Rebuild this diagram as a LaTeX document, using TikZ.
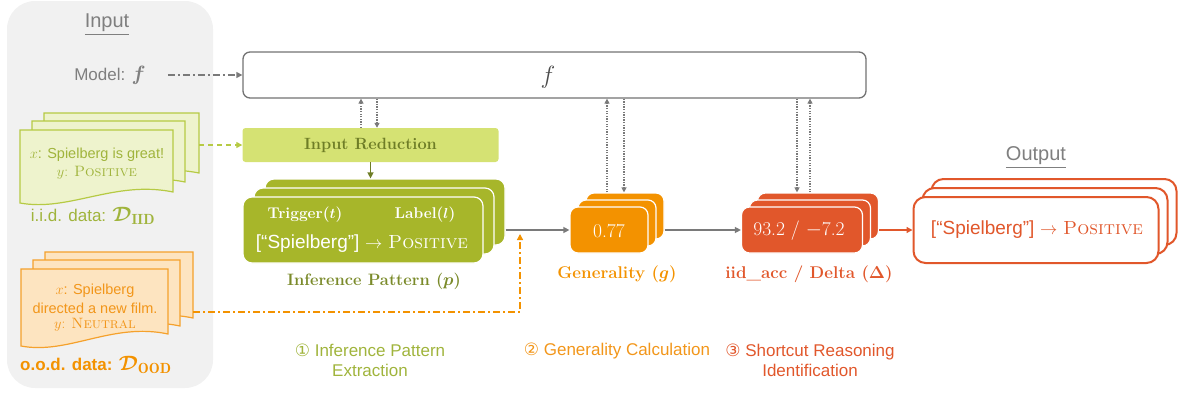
\documentclass[tikz,border=0pt]{standalone}
\usepackage{amsmath}
\usepackage{bm}
\usepackage{fontspec}
\newfontfamily\arial{Liberation Sans}
\newfontfamily\dejavu{DejaVu Sans}
\usetikzlibrary{arrows.meta}
\definecolor{panelgrey}{HTML}{F1F1F1}
\definecolor{txtgrey}{HTML}{7F7F7F}
\definecolor{linegrey}{HTML}{7A7A7A}
\definecolor{fborder}{HTML}{737373}
\definecolor{lgfill}{HTML}{EEF3CD}
\definecolor{lgborder}{HTML}{B6CA44}
\definecolor{lgtext}{HTML}{A0B43C}
\definecolor{irfill}{HTML}{D5E273}
\definecolor{irtext}{HTML}{6E7D26}
\definecolor{ipfill}{HTML}{A7B62A}
\definecolor{iplabel}{HTML}{7A8A2A}
\definecolor{orng}{HTML}{F39200}
\definecolor{ofill}{HTML}{FDE4C0}
\definecolor{oborder}{HTML}{F5A12C}
\definecolor{otext}{HTML}{F2961A}
\definecolor{rd}{HTML}{E1572B}
\newcommand{\fsz}[2]{\fontsize{#1}{#2}\selectfont}
\newcommand{\mydoc}[7]{%
  \filldraw[fill=#1,draw=#2,line width=1.2pt] (#3,#4) -- (#5,#4) -- (#5,#7)
    .. controls ({#3+0.62*(#5-#3)},{#7-12}) and ({#3+0.32*(#5-#3)},{#6+9}) .. (#3,#6) -- cycle;}
\begin{document}
\begin{tikzpicture}[x=1pt,y=-1pt,
  arr/.style={-{Triangle[length=6pt,width=6pt]}, line width=1.3pt},
  smarr/.style={-{Triangle[length=5pt,width=5pt]}},
  dashdot/.style={dash pattern=on 7pt off 3pt on 2pt off 3pt},
  dotl/.style={draw=linegrey, line width=1.2pt, dash pattern=on 1.3pt off 1.3pt},
  stackbox/.style={rounded corners=9pt, draw=white, line width=1.2pt, inner sep=0pt},
  ipbox/.style={stackbox, fill=ipfill, minimum width=240pt, minimum height=66pt},
  genbox/.style={stackbox, rounded corners=8pt, fill=orng, minimum width=78pt, minimum height=46pt},
  accbox/.style={stackbox, rounded corners=8pt, fill=rd, minimum width=121pt, minimum height=46pt},
  outbox/.style={rounded corners=12pt, draw=rd, fill=white, line width=2pt, minimum width=245pt, minimum height=66pt, inner sep=0pt},
  lbl/.style={inner sep=0pt, align=center},
  botlbl/.style={inner sep=0pt, align=center, font=\arial\fsz{17}{20}}
]
\useasboundingbox (0,0) rectangle (1181,394);
% input panel
\fill[panelgrey, rounded corners=28pt] (7,1) rectangle (213,388);
\node[lbl, text=txtgrey] (inlbl) at (107,25) {\arial\fsz{20}{24}\underline{Input}};
\node[lbl, text=txtgrey] (model) at (110,75) {\arial\fsz{17}{20}Model: \fsz{20}{24}$\bm{f}$};
% f box
\node[draw=fborder, line width=1.3pt, rounded corners=7pt, fill=white, minimum width=623pt, minimum height=46pt] (fbox) at (554.5,75) {};
\node[lbl, text=black!70] (ftxt) at (548,77) {\fsz{25}{30}$f$};
\draw[arr, draw=linegrey, dashdot, shorten <=22pt] (model.east) -- (model.east -| fbox.west);
% iid docs
\mydoc{lgfill}{lgborder}{44}{113}{199}{184}{173}
\mydoc{lgfill}{lgborder}{32}{121}{185}{193}{182}
\mydoc{lgfill}{lgborder}{20}{130}{173}{203}{192}
\node[lbl, text=lgtext] (iidx) at (97,155) {\arial\fsz{14.5}{17}$x$: Spielberg is great!};
\node[lbl, text=lgtext] (iidy) at (97,173) {\fsz{15}{17}$y$: \textsc{Positive}};
\node[lbl, text=lgtext] (iidlbl) at (93,216) {\arial\fsz{17}{20}i.i.d. data: \fsz{21}{24}$\bm{\mathcal{D}}_{\mathbf{IID}}$};
% ood docs
\mydoc{ofill}{oborder}{45}{252}{193}{329}{318}
\mydoc{ofill}{oborder}{33}{260}{180}{337}{326}
\mydoc{ofill}{oborder}{21}{269}{168}{346}{334}
\node[lbl, text=otext] (oodx) at (95,291) {\arial\fsz{14.5}{17}$x$: Spielberg};
\node[lbl, text=otext] (oodd) at (95,308) {\arial\fsz{14.5}{17}directed a new film.};
\node[lbl, text=otext] (oody) at (95,325) {\fsz{15}{17}$y$: \textsc{Neutral}};
\node[lbl, text=orng] (oodlbl) at (96,365) {\arial\bfseries\fsz{17}{20}o.o.d. data: \fsz{21}{24}$\bm{\mathcal{D}}_{\mathbf{OOD}}$};
% input reduction
\node[rounded corners=3pt, fill=irfill, minimum width=256pt, minimum height=34pt, inner sep=0pt, text=irtext] (ir) at (370.5,145) {\bfseries\fsz{16.3}{19}Input Reduction};
\coordinate (iidR) at (199,145);
\draw[arr, draw=lgborder, dash pattern=on 5pt off 4pt] (iidR) -- (iidR -| ir.west);
% inference pattern stack
\node[ipbox] (ip3) at (385,212) {};
\node[ipbox] (ip2) at (374,221) {};
\node[ipbox] (ip) at (363,230) {};
\node[lbl, text=white] (iptrig) at (305,215) {\bfseries\fsz{15.5}{18}Trigger($\bm{t}$)};
\node[lbl, text=white] (iplab) at (425,215) {\bfseries\fsz{15.5}{18}Label($\bm{l}$)};
\node[lbl, text=white] (iptxt) at (362,244) {\fsz{19}{22}{\arial[“Spielberg”]} $\rightarrow$ \textsc{Positive}};
\node[lbl, text=iplabel] (iplbl) at (374,281) {\bfseries\fsz{16.5}{20}Inference Pattern ($\bm{p}$)};
\draw[arr, draw=irtext] (ir.south) -- (ir.south |- ip3.north);
% generality stack
\node[genbox] (gen3) at (625,216) {};
\node[genbox] (gen2) at (617,223) {};
\node[genbox] (gen) at (609,230) {};
\node[lbl, text=white] (gentxt) at (609,231) {\fsz{19.5}{22}0.77};
\node[lbl, text=orng] (genlbl) at (617,274) {\bfseries\fsz{17}{20}Generality ($\bm{g}$)};
% acc stack
\node[accbox] (acc3) at (818,216) {};
\node[accbox] (acc2) at (810,223) {};
\node[accbox] (acc) at (802,230) {};
\node[lbl, text=white] (acctxt) at (799,231) {\fsz{19.5}{22}93.2 / $-$7.2};
\node[lbl, text=rd] (acclbl) at (809,274) {\bfseries\fsz{17}{20}iid\_acc / Delta ($\bm{\Delta}$)};
% output
\node[lbl, text=txtgrey] (outlbl) at (1036,158) {\arial\fsz{20}{24}\underline{Output}};
\node[outbox] (out3) at (1054,212) {};
\node[outbox] (out2) at (1045,221) {};
\node[outbox] (out) at (1036,230) {};
\node[lbl, text=rd] (outtxt) at (1037,230) {\fsz{19}{22}{\arial[“Spielberg”]} $\rightarrow$ \textsc{Positive}};
% main flow connectors
\draw[arr, draw=linegrey] (ip.center -| ip3.east) -- (gen.west);
\draw[arr, draw=linegrey] (gen.center -| gen3.east) -- (acc.west);
\draw[arr, draw=rd] (acc.center -| acc3.east) -- (out.west);
% ood dash-dot
\coordinate (oodR) at (193,312);
\coordinate (turn) at (520,312);
\coordinate (oend) at (520,234);
\draw[arr, draw=orng, dashdot] (oodR) -- (turn) -- (oend);
% dotted f links
\coordinate (ir1) at ([xshift=-9.5pt]ir.north);
\coordinate (ir2) at ([xshift=6.5pt]ir.north);
\draw[dotl, smarr] (ir1) -- (ir1 |- fbox.south);
\draw[dotl, smarr] (ir2 |- fbox.south) -- (ir2);
\coordinate (g1) at ([xshift=-18pt]gen3.north);
\coordinate (g2) at ([xshift=-1pt]gen3.north);
\draw[dotl, smarr] (g1) -- (g1 |- fbox.south);
\draw[dotl, smarr] (g2 |- fbox.south) -- (g2);
\coordinate (a1) at ([xshift=-21pt]acc3.north);
\coordinate (a2) at ([xshift=-8pt]acc3.north);
\draw[dotl, smarr] (a1 |- fbox.south) -- (a1);
\draw[dotl, smarr] (a2) -- (a2 |- fbox.south);
% bottom labels
\node[botlbl, text=lgtext] (lab1) at (370,360) {{\dejavu ①} Inference Pattern\\Extraction};
\node[botlbl, text=otext] (lab2) at (617,351) {{\dejavu ②} Generality Calculation};
\node[botlbl, text=rd] (lab3) at (810,360) {{\dejavu ③} Shortcut Reasoning\\Identification};
\end{tikzpicture}
\end{document}
